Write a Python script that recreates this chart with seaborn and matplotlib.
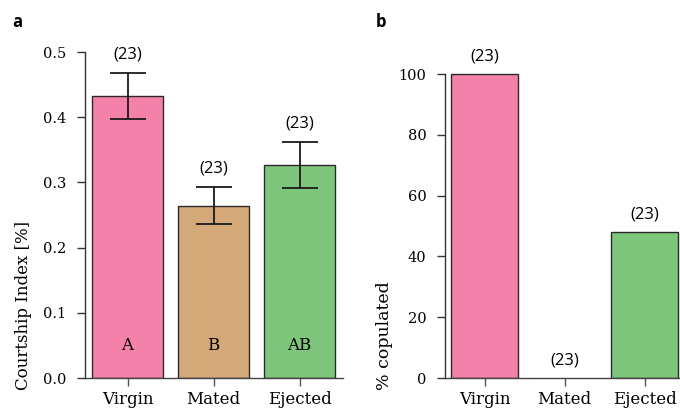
import matplotlib
matplotlib.use('Agg')
import matplotlib.pyplot as plt
import seaborn as sns
import pandas as pd

# data
groups = ['Virgin', 'Mated', 'Ejected']
colors = ['#F381A9', '#D5A879', '#7DC67B']
ci_mean = [0.432, 0.264, 0.327]
ci_low = [0.398, 0.236, 0.291]
ci_high = [0.468, 0.293, 0.362]
ci_letters = ['A', 'B', 'AB']
pct_copulated = [100, 0, 48]
n_flies = [23, 23, 23]

sns.set_style('ticks')
plt.rcParams['font.family'] = ['DejaVu Serif']
plt.rcParams['text.color'] = 'black'
plt.rcParams['axes.labelcolor'] = 'black'
plt.rcParams['xtick.color'] = 'black'
plt.rcParams['ytick.color'] = 'black'

serif = 'DejaVu Serif'
sans = 'Open Sans'

fig = plt.figure(figsize=(6.8, 4.12), dpi=100)
ax_a = fig.add_axes([84.5 / 680, 34 / 412, 258 / 680, 326 / 412])
ax_b = fig.add_axes([444.5 / 680, 34 / 412, 240 / 680, 326 / 412])

df_a = pd.DataFrame({'group': groups, 'ci': ci_mean})
df_b = pd.DataFrame({'group': groups, 'pct': pct_copulated})
pal = dict(zip(groups, colors))

sns.barplot(data=df_a, x='group', y='ci', hue='group', palette=pal, ax=ax_a,
            width=0.83, edgecolor='#2a2a2a', linewidth=1, saturation=1, legend=False)
sns.barplot(data=df_b, x='group', y='pct', hue='group', palette=pal, ax=ax_b,
            width=0.83, edgecolor='#2a2a2a', linewidth=1, saturation=1, legend=False)

# a zero-height bar shows no outline in the original
for p in ax_b.patches:
    if p.get_height() == 0:
        p.set_linewidth(0)

# error bars panel a
err_lo = [m - l for m, l in zip(ci_mean, ci_low)]
err_hi = [h - m for m, h in zip(ci_mean, ci_high)]
ax_a.errorbar(range(3), ci_mean, yerr=[err_lo, err_hi], fmt='none',
              ecolor='#1a1a1a', elinewidth=1.3, capsize=13, capthick=1.3)

for i in range(3):
    ax_a.annotate(f'({n_flies[i]})', (i, ci_high[i]), xytext=(0, 13),
                  textcoords='offset points', ha='center', va='center',
                  fontsize=12, family=sans)
    ax_a.text(i, 0.05, ci_letters[i], ha='center', va='center',
              fontsize=12, family=serif)
    ax_b.annotate(f'({n_flies[i]})', (i, pct_copulated[i]), xytext=(0, 12.5),
                  textcoords='offset points', ha='center', va='center',
                  fontsize=12, family=sans)

ax_a.set_ylim(0, 0.5)
ax_a.set_yticks([0, 0.1, 0.2, 0.3, 0.4, 0.5])
ax_a.set_yticklabels(['0.0', '0.1', '0.2', '0.3', '0.4', '0.5'])
ax_a.set_ylabel('Courtship Index [%]', fontsize=12, family=serif, ha='left', va='center')
ax_a.yaxis.set_label_coords(-0.238, -0.037)

ax_b.set_ylim(0, 100 * 326 / 304)
ax_b.set_yticks([0, 20, 40, 60, 80, 100])
ax_b.set_ylabel('% copulated', fontsize=12.5, family=serif, ha='left', va='center')
ax_b.yaxis.set_label_coords(-0.248, -0.037)

for ax in (ax_a, ax_b):
    ax.set_xlim(-0.5, 2.5)
    ax.set_xlabel('')
    sns.despine(ax=ax)
    ax.spines['left'].set_bounds(0, ax.get_yticks()[-1])
    ax.tick_params(axis='y', labelsize=10.5, length=6, width=1, color='#333333', pad=7)
    ax.tick_params(axis='x', labelsize=12, length=6, width=1, color='#555555')
    for s in ('left', 'bottom'):
        ax.spines[s].set_linewidth(1)
    ax.spines['left'].set_color('#333333')
    ax.spines['bottom'].set_color('#444444')
    for lab in ax.get_xticklabels() + ax.get_yticklabels():
        lab.set_family(serif)

fig.text(12 / 680, 1 - 22 / 412, 'a', fontsize=12, fontweight='bold', family=sans, va='center')
fig.text(376 / 680, 1 - 22 / 412, 'b', fontsize=12, fontweight='bold', family=sans, va='center')

fig.savefig('out.png', dpi=100)
